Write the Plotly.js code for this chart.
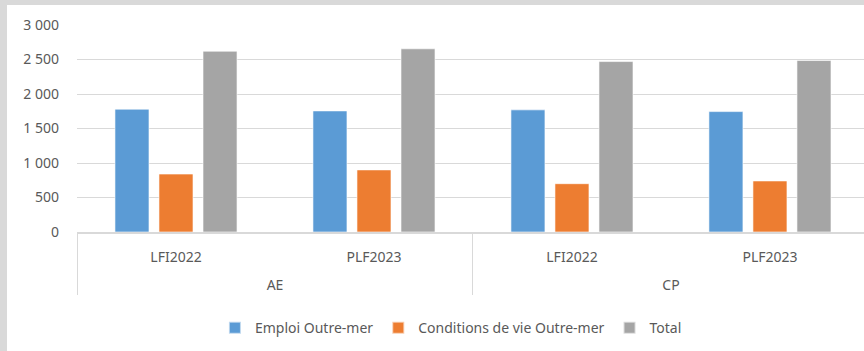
<!DOCTYPE html>
<html>
<head>
<meta charset="utf-8">
<script src="https://cdn.plot.ly/plotly-3.0.1.min.js"></script>
<style>
  html, body { margin: 0; padding: 0; background: #d9d9d9; width: 864px; height: 351px; overflow: hidden; }
  #chart { position: absolute; left: 7px; top: 5px; width: 857px; height: 346px; background: #fff; }
</style>
</head>
<body>
<div id="chart"></div>
<script>
const groups = ["AE", "AE", "CP", "CP"];
const periods = ["LFI2022", "PLF2023", "LFI2022", "PLF2023"];
const seriesNames = ["Emploi Outre-mer", "Conditions de vie Outre-mer", "Total"];
const emploi = [1780, 1755, 1770, 1745];
const conditions = [840, 900, 700, 740];
const total = [2620, 2655, 2470, 2485];
const colors = ["#5b9bd5", "#ed7d31", "#a5a5a5"];
const yTicks = [0, 500, 1000, 1500, 2000, 2500, 3000];

const periodLabels = periods.map(p => p + "<br>&nbsp;");
const values = [emploi, conditions, total];
const traces = values.map((v, i) => ({
  type: "bar",
  name: seriesNames[i],
  x: [groups, periodLabels],
  y: v,
  marker: { color: colors[i], line: { color: "rgba(255,255,255,0.6)", width: 1 } },
  hoverinfo: "none"
}));

const layout = {
  width: 857,
  height: 346,
  margin: { l: 70, r: 0, t: 20, b: 119 },
  paper_bgcolor: "#ffffff",
  plot_bgcolor: "#ffffff",
  separators: ", ",
  barmode: "group",
  bargap: 0.333,
  bargroupgap: 0.227,
  font: { family: "Noto Sans, sans-serif", size: 14, color: "#595959" },
  xaxis: {
    type: "multicategory",
    range: [-0.5, 3.475],
    showgrid: false,
    showline: true,
    linecolor: "#d9d9d9",
    linewidth: 2,
    ticks: "",
    ticklabelstandoff: 11,
    showdividers: true,
    dividercolor: "#d9d9d9",
    dividerwidth: 1,
    tickfont: { size: 14, color: "#595959" }
  },
  yaxis: {
    range: [0, 3000],
    tickvals: yTicks,
    tickformat: ",d",
    showgrid: true,
    gridcolor: "#d9d9d9",
    gridwidth: 1,
    zeroline: false,
    showline: false,
    ticks: "",
    ticklabelstandoff: 17,
    tickfont: { size: 14, color: "#595959" }
  },
  showlegend: true,
  legend: {
    orientation: "h",
    xref: "container",
    yref: "container",
    x: 0.518,
    xanchor: "center",
    y: 0.066,
    yanchor: "middle",
    itemwidth: 30,
    font: { size: 14, color: "#595959" },
    itemsizing: "constant"
  }
};

Plotly.newPlot("chart", traces, layout, { displayModeBar: false, staticPlot: true });
</script>
</body>
</html>
